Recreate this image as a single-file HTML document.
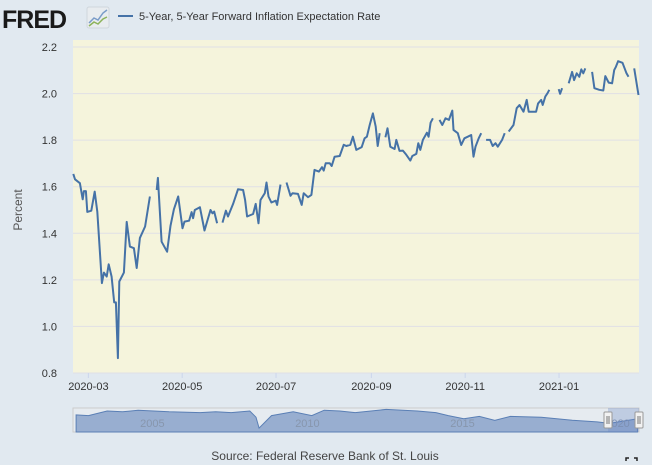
<!DOCTYPE html>
<html><head><meta charset="utf-8"><style>
body{margin:0;background:#e1e9f0;font-family:"Liberation Sans",sans-serif;}
#wrap{position:relative;width:652px;height:465px;overflow:hidden;background:#e1e9f0;}
</style></head><body>
<div id="wrap">
<svg id="svg" width="652" height="465" xmlns="http://www.w3.org/2000/svg">
  <g>
    <text x="2" y="28" font-family="Liberation Sans, sans-serif" font-weight="bold" font-size="25" fill="#1a1a1a" letter-spacing="-1">FRED</text>
    <rect x="87" y="7" width="22" height="21" rx="2" fill="#e8ecef" stroke="#cfd6dc"/>
    <polyline points="89,23 94,18 98,20 103,13 107,10" fill="none" stroke="#7a9cc8" stroke-width="1.5"/>
    <polyline points="89,26 94,22 98,24 103,19 107,17" fill="none" stroke="#8cb35a" stroke-width="1.5"/>
  </g>
  <g>
    <line x1="118" y1="16" x2="133" y2="16" stroke="#4572a7" stroke-width="2"/>
    <text x="139" y="20" font-size="11" fill="#333">5-Year, 5-Year Forward Inflation Expectation Rate</text>
  </g>
  <rect x="73" y="40" width="566" height="333" fill="#f5f4dc"/>
  <g id="grid"></g>
  <g id="yticks"></g>
  <g id="xticks"></g>
  <text transform="translate(22,210) rotate(-90)" text-anchor="middle" font-size="12" fill="#555">Percent</text>
  <g id="series"></g>
  <g id="nav"></g>
  <text x="325" y="460" text-anchor="middle" font-size="12" fill="#444">Source: Federal Reserve Bank of St. Louis</text>
  <g stroke="#222" stroke-width="1.5" fill="none">
    <polyline points="626,461 626,458 629,458"/><polyline points="634,458 637,458 637,461"/>
  </g>
</svg>
</div>
<script>
const days=[0.2,1.3,4.5,6.3,7.1,8.4,9.3,11.9,14.1,15.8,18.8,20.1,21.9,23.2,25.1,26.8,27.9,29.2,30.1,33.1,34.9,37.0,39.6,41.4,43.5,46.9,50.0,null,
54.4,55.2,57.6,61.2,63.4,65.6,68.4,71.2,72.5,75.5,77.1,78.1,79.2,82.5,85.5,89.4,90.7,91.8,93.7,null,
97.2,99.4,100.8,104.1,107.3,110.6,111.9,113.2,117.1,118.8,120.6,121.9,124.7,125.8,127.1,129.0,131.8,132.7,134.9,null,
138.8,141.4,142.7,146.3,148.7,150.0,152.8,155.0,157.0,159.9,161.9,163.0,164.3,166.9,168.2,170.1,173.4,176.0,177.7,180.3,182.0,184.2,187.7,189.6,191.1,192.9,195.0,196.8,198.1,199.4,null,
203.1,204.5,206.3,209.1,210.2,212.3,214.5,216.7,219.3,220.6,223.2,224.5,225.8,227.5,230.1,231.2,232.5,234.0,null,
238.3,240.1,242.2,244.4,246.6,247.4,250.2,252.4,254.5,256.7,258.9,260.4,261.7,263.8,265.4,null,
268.6,271.2,272.9,274.7,276.2,279.0,280.7,null,
283.3,286.4,288.5,290.3,292.9,295.0,296.3,297.9,301.1,302.4,304.4,305.4,307.1,308.6,309.7,null,
315.8,316.7,318.0,null,
322.3,324.5,325.8,327.5,329.2,330.5,331.8,333.1,null,
337.5,339.0,342.2,344.8,346.1,348.3,350.5,351.9,353.0,354.4,357.3,359.9,361.2,null,
364.9,367.7];
const values=[1.655,1.632,1.615,1.546,1.581,1.581,1.492,1.497,1.579,1.493,1.186,1.231,1.214,1.267,1.214,1.103,1.103,0.864,1.193,1.231,1.449,1.343,1.336,1.251,1.380,1.429,1.558,null,
1.586,1.638,1.364,1.321,1.432,1.503,1.558,1.422,1.450,1.454,1.491,1.465,1.500,1.512,1.412,1.500,1.486,1.493,1.443,null,
1.446,1.497,1.472,1.526,1.589,1.586,1.543,1.472,1.483,1.526,1.443,1.543,1.572,1.618,1.558,1.532,1.540,1.522,1.609,null,
1.618,1.561,1.572,1.569,1.522,1.572,1.555,1.565,1.672,1.665,1.684,1.669,1.701,1.701,1.689,1.729,1.732,1.780,1.775,1.780,1.815,1.758,1.770,1.808,1.815,1.865,1.915,1.858,1.775,1.830,null,
1.812,1.851,1.772,1.762,1.801,1.754,1.755,1.737,1.712,1.732,1.741,1.787,1.758,1.801,1.832,1.815,1.875,1.894,null,
1.887,1.865,1.894,1.887,1.927,1.844,1.830,1.779,1.808,1.815,1.822,1.729,1.772,1.808,1.830,null,
1.801,1.801,1.775,1.787,1.772,1.801,1.830,null,
1.837,1.865,1.937,1.951,1.922,1.973,1.922,1.922,1.922,1.958,1.973,1.951,1.987,2.002,2.016,null,
2.019,1.999,2.023,null,
2.044,2.093,2.058,2.087,2.072,2.104,2.087,2.108,null,
2.093,2.023,2.016,2.013,2.075,2.047,2.044,2.101,2.115,2.139,2.132,2.087,2.072,null,
2.108,1.994];
const yTicks=[0.8,1.0,1.2,1.4,1.6,1.8,2.0,2.2];
const xTickDays=[10,71,132,194,255,316];
const xTickLabels=["2020-03","2020-05","2020-07","2020-09","2020-11","2021-01"];
const navYears=[2003,2003.4,2004,2004.5,2005,2006,2007,2007.5,2008,2008.6,2008.8,2008.9,2009.3,2010,2010.6,2011,2011.5,2012,2013,2014,2014.6,2015,2015.5,2016,2016.5,2017,2018,2019,2019.8,2020.2,2021.1];
const navValues=[2.35,2.3,2.6,2.55,2.65,2.55,2.5,2.55,2.5,2.6,2.2,1.5,2.3,2.55,2.3,2.65,2.6,2.5,2.7,2.6,2.5,2.3,2.1,2.25,2.0,2.25,2.2,2.0,1.9,1.8,2.1];
const navLabels=[2005,2010,2015,2020];
const NS="http://www.w3.org/2000/svg";
const X0=73,X1=639,D0=0,D1=368,Y0=373,Y1=47,V0=0.8,V1=2.2;
function xs(d){return X0+(d-D0)/(D1-D0)*(X1-X0);}
function ys(v){return Y0-(v-V0)/(V1-V0)*(Y0-Y1);}
function mk(t,a,p){const e=document.createElementNS(NS,t);for(const k in a)e.setAttribute(k,a[k]);p.appendChild(e);return e;}
const grid=document.getElementById('grid'),yt=document.getElementById('yticks'),xt=document.getElementById('xticks');
yTicks.forEach(v=>{
  const l=mk('line',{x1:X0,x2:X1,y1:ys(v),y2:ys(v),stroke:'#e0e0e6','stroke-width':1},grid);
  
  
  const t=mk('text',{x:57,y:ys(v)+4,'text-anchor':'end','font-size':11,fill:'#333'},yt);
  t.textContent=v.toFixed(1);
  
  
});
xTickDays.forEach((d,i)=>{
  const l=mk('line',{x1:xs(d),x2:xs(d),y1:373,y2:378,stroke:'#ccd6eb'},xt);
  
  
  const t=mk('text',{x:xs(d),y:390,'text-anchor':'middle','font-size':11,fill:'#333'},xt);
  t.textContent=xTickLabels[i];
  
  
});
let dstr='',pen=false;
for(let i=0;i<days.length;i++){
  if(days[i]===null||values[i]===null){pen=false;continue;}
  dstr+=(pen?'L':'M')+xs(days[i]).toFixed(1)+' '+ys(values[i]).toFixed(1)+' ';pen=true;
}
const line=mk('path',{d:dstr,fill:'none',stroke:'#4572a7','stroke-width':2,'stroke-linejoin':'round'},document.getElementById('series'));


// navigator
const nav=document.getElementById('nav');
const NY0=2002.9,NY1=2021.15,NT=408,NB=432;
function nx(y){return X0+(y-NY0)/(NY1-NY0)*(X1-X0);}
function ny(v){return 411+(2.6-v)*15.5;}
mk('rect',{x:X0,y:NT,width:X1-X0,height:NB-NT,fill:'#e6ebf0',stroke:'#ccc'},nav);
let nd='M'+nx(navYears[0])+' '+NB;
navYears.forEach((y,i)=>{nd+=' L'+nx(y).toFixed(1)+' '+ny(navValues[i]).toFixed(1);});
nd+=' L'+nx(navYears[navYears.length-1])+' '+NB+' Z';
const area=mk('path',{d:nd,fill:'#98aed0',stroke:'#5a7fb5','stroke-width':1},nav);


navLabels.forEach(y=>{
  const t=mk('text',{x:nx(y)+2,y:427,'font-size':11,fill:'#8796ad'},nav);
  t.textContent=y;
  
  
});
mk('rect',{x:608,y:NT,width:31,height:NB-NT,fill:'rgba(102,133,194,0.3)'},nav);
[608,639].forEach(x=>{
  const h=mk('rect',{x:x-4,y:412,width:8,height:16,fill:'#f2f2f2',stroke:'#999',rx:1},nav);
  
  
  mk('line',{x1:x-1,x2:x-1,y1:416,y2:424,stroke:'#777'},nav);
  mk('line',{x1:x+1,x2:x+1,y1:416,y2:424,stroke:'#777'},nav);
});
</script>
</body></html>
